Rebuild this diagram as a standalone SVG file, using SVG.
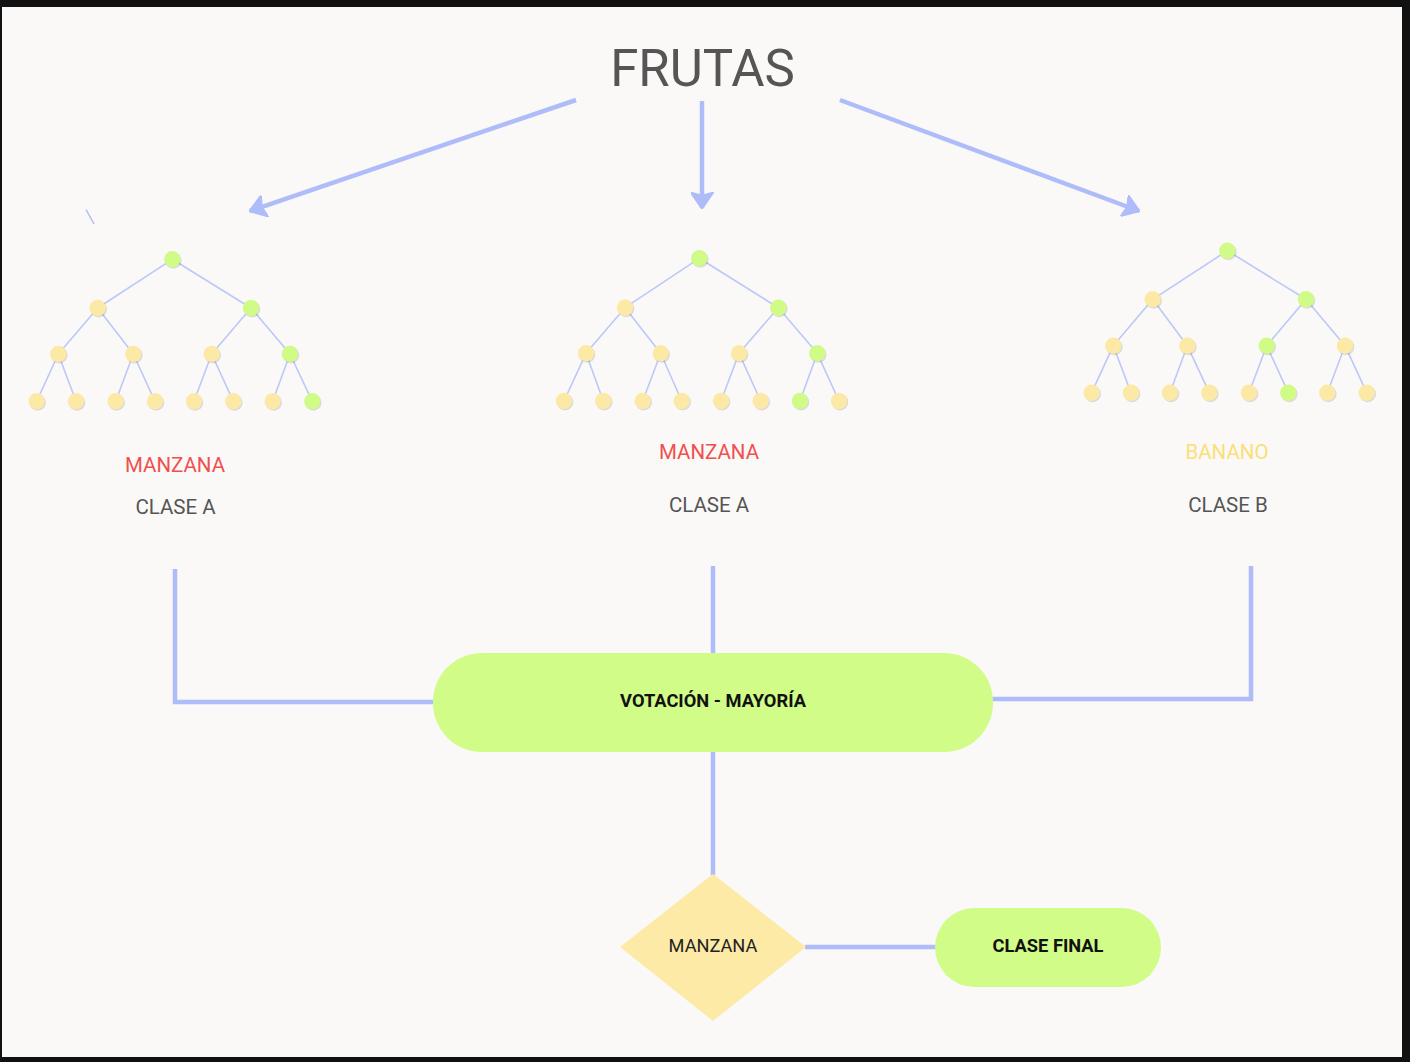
<svg xmlns="http://www.w3.org/2000/svg" width="1410" height="1062" viewBox="0 0 1410 1062">
<style>
.conn{stroke:#aebcfa;stroke-width:4.5;fill:none}
.edge{stroke:#bcc8f8;stroke-width:1.6;fill:none}
.y{fill:#fde9a6}
.g{fill:#d0fb86}
.sh{fill:#000;opacity:0.12}
.lbl{font-family:Roboto,"Liberation Sans",sans-serif;font-size:20.5px;text-anchor:middle}
.bold{font-family:Roboto,"Liberation Sans",sans-serif;font-size:18.3px;font-weight:bold;text-anchor:middle;fill:#111}
</style>
<defs>
<marker id="ah" markerUnits="userSpaceOnUse" viewBox="0 0 16 22" refX="15" refY="11" markerWidth="17" markerHeight="23" orient="auto">
<path d="M0,0 L16,11 L0,22 L3,11 Z" fill="#aebcfa" stroke="#aebcfa" stroke-width="1.5" stroke-linejoin="round"/>
</marker>
<g id="dotY"><circle class="sh" cx="1" cy="1.2" r="8.3"/><circle class="y" cx="0" cy="0" r="8.2"/></g>
<g id="dotG"><circle class="sh" cx="1" cy="1.2" r="8.3"/><circle class="g" cx="0" cy="0" r="8.2"/></g>
</defs>
<rect x="0" y="0" width="1410" height="1062" fill="#111"/>
<rect x="2" y="7" width="1400" height="1050" fill="#faf9f7"/>

<g id="title"><text x="702.5" y="86" font-family="Roboto,'Liberation Sans',sans-serif" font-size="51" fill="#555" text-anchor="middle">FRUTAS</text></g>

<g id="connectors">
<line class="conn" x1="576" y1="100" x2="250" y2="211" marker-end="url(#ah)"/>
<line class="conn" x1="702" y1="101" x2="702" y2="208" marker-end="url(#ah)"/>
<line class="conn" x1="840" y1="100" x2="1139" y2="211" marker-end="url(#ah)"/>
<line x1="86" y1="209.5" x2="94" y2="224" stroke="#aebcfa" stroke-width="1.5"/>
<polyline class="conn" points="175,569 175,702 433,702"/>
<line class="conn" x1="713" y1="566" x2="713" y2="654"/>
<polyline class="conn" points="1251,566 1251,699 992,699"/>
<line class="conn" x1="713" y1="751" x2="713" y2="875"/>
<line class="conn" x1="805" y1="947" x2="936" y2="947"/>
</g>

<g id="tree1">
<path class="edge" d="M172.3,259.3L97.7,308M172.3,259.3L251,308M97.7,308L58.3,354M97.7,308L133.3,354M251,308L211.7,354M251,308L290,354M58.3,354L36.7,401.3M58.3,354L76,401.3M133.3,354L115.7,401.3M133.3,354L155,401.3M211.7,354L194,401.3M211.7,354L233.3,401.3M290,354L272.7,401.3M290,354L312.3,401.3"/>
<use href="#dotG" x="172.3" y="259.3"/>
<use href="#dotY" x="97.7" y="308"/><use href="#dotG" x="251" y="308"/>
<use href="#dotY" x="58.3" y="354"/><use href="#dotY" x="133.3" y="354"/><use href="#dotY" x="211.7" y="354"/><use href="#dotG" x="290" y="354"/>
<use href="#dotY" x="36.7" y="401.3"/><use href="#dotY" x="76" y="401.3"/><use href="#dotY" x="115.7" y="401.3"/><use href="#dotY" x="155" y="401.3"/><use href="#dotY" x="194" y="401.3"/><use href="#dotY" x="233.3" y="401.3"/><use href="#dotY" x="272.7" y="401.3"/><use href="#dotG" x="312.3" y="401.3"/>
<text class="lbl" x="175" y="471.5" fill="#f04f4f">MANZANA</text>
<text class="lbl" x="175.5" y="514" fill="#555">CLASE A</text>
</g>

<g id="tree2">
<path class="edge" d="M699.3,258.3L625,307.7M699.3,258.3L778.3,307.7M625,307.7L586,353.3M625,307.7L660.7,353.3M778.3,307.7L739,353.3M778.3,307.7L817.3,353.3M586,353.3L564,401M586,353.3L603.3,401M660.7,353.3L642.7,401M660.7,353.3L681.7,401M739,353.3L721,401M739,353.3L760.7,401M817.3,353.3L800,401M817.3,353.3L839,401"/>
<use href="#dotG" x="699.3" y="258.3"/>
<use href="#dotY" x="625" y="307.7"/><use href="#dotG" x="778.3" y="307.7"/>
<use href="#dotY" x="586" y="353.3"/><use href="#dotY" x="660.7" y="353.3"/><use href="#dotY" x="739" y="353.3"/><use href="#dotG" x="817.3" y="353.3"/>
<use href="#dotY" x="564" y="401"/><use href="#dotY" x="603.3" y="401"/><use href="#dotY" x="642.7" y="401"/><use href="#dotY" x="681.7" y="401"/><use href="#dotY" x="721" y="401"/><use href="#dotY" x="760.7" y="401"/><use href="#dotG" x="800" y="401"/><use href="#dotY" x="839" y="401"/>
<text class="lbl" x="709" y="459" fill="#f04f4f">MANZANA</text>
<text class="lbl" x="709" y="512" fill="#555">CLASE A</text>
</g>

<g id="tree3">
<path class="edge" d="M1227.3,250.7L1152.7,299.3M1227.3,250.7L1306,299.3M1152.7,299.3L1113.3,345.7M1152.7,299.3L1187.3,345.7M1306,299.3L1266.7,345.7M1306,299.3L1345,345.7M1113.3,345.7L1091.7,392.7M1113.3,345.7L1131,392.7M1187.3,345.7L1170,392.7M1187.3,345.7L1209.3,392.7M1266.7,345.7L1249,392.7M1266.7,345.7L1288.3,392.7M1345,345.7L1327.3,392.7M1345,345.7L1366.7,392.7"/>
<use href="#dotG" x="1227.3" y="250.7"/>
<use href="#dotY" x="1152.7" y="299.3"/><use href="#dotG" x="1306" y="299.3"/>
<use href="#dotY" x="1113.3" y="345.7"/><use href="#dotY" x="1187.3" y="345.7"/><use href="#dotG" x="1266.7" y="345.7"/><use href="#dotY" x="1345" y="345.7"/>
<use href="#dotY" x="1091.7" y="392.7"/><use href="#dotY" x="1131" y="392.7"/><use href="#dotY" x="1170" y="392.7"/><use href="#dotY" x="1209.3" y="392.7"/><use href="#dotY" x="1249" y="392.7"/><use href="#dotG" x="1288.3" y="392.7"/><use href="#dotY" x="1327.3" y="392.7"/><use href="#dotY" x="1366.7" y="392.7"/>
<text class="lbl" x="1227" y="458.5" fill="#fbdf78">BANANO</text>
<text class="lbl" x="1228" y="512" fill="#555">CLASE B</text>
</g>

<g id="votacion">
<rect x="433" y="653" width="560" height="99" rx="49" fill="#d0fc87"/>
<text class="bold" x="713" y="707">VOTACIÓN - MAYORÍA</text>
</g>

<g id="manzana">
<polygon points="713,874 806,947 713,1021 620,947" fill="#fdeaa7"/>
<text x="713" y="952" font-family="Roboto,'Liberation Sans',sans-serif" font-size="18.2" fill="#222" text-anchor="middle">MANZANA</text>
</g>

<g id="clasefinal">
<rect x="935" y="908" width="226" height="79" rx="39.5" fill="#d0fc87"/>
<text class="bold" x="1048" y="951.5">CLASE FINAL</text>
</g>
</svg>
